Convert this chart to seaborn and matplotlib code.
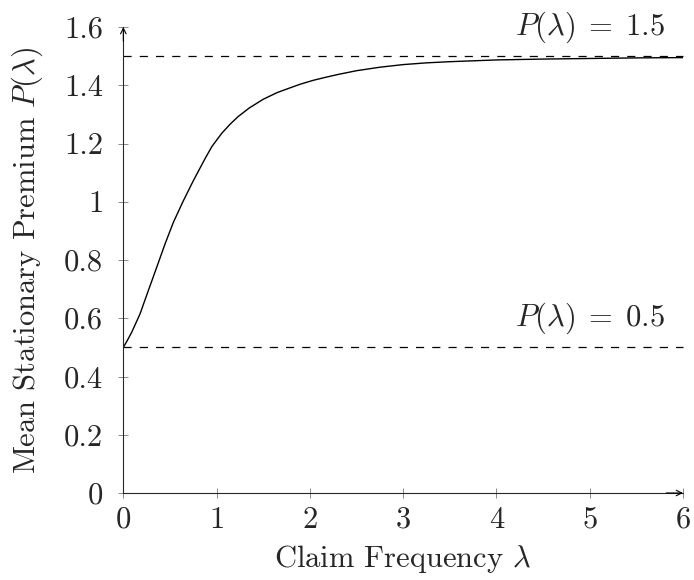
import numpy as np
import pandas as pd
import matplotlib
matplotlib.use("Agg")
import matplotlib.pyplot as plt
import seaborn as sns

sns.set_style("ticks")
plt.rcParams['font.family'] = 'serif'
plt.rcParams['font.serif'] = ['cmr10']
plt.rcParams['mathtext.fontset'] = 'cm'
plt.rcParams['axes.formatter.use_mathtext'] = True

# curve
lam = [0, 0.045, 0.09, 0.179, 0.268, 0.358, 0.447, 0.536, 0.643, 0.75, 0.876, 0.95,
       1.055, 1.15, 1.233, 1.35, 1.5, 1.65, 1.769, 1.9, 2.036, 2.15, 2.3, 2.5,
       2.75, 3.0, 3.25, 3.5, 4.0, 4.5, 5.0, 5.5, 6.0]
premium = [0.5, 0.525, 0.552, 0.615, 0.695, 0.775, 0.855, 0.929, 1.003, 1.072, 1.148, 1.19,
           1.235, 1.268, 1.293, 1.322, 1.352, 1.375, 1.389, 1.404, 1.417, 1.426, 1.437, 1.45,
           1.462, 1.471, 1.477, 1.481, 1.487, 1.490, 1.492, 1.494, 1.495]

bounds = [0.5, 1.5]
bound_labels = [r'$P(\lambda)\;=\;0.5$', r'$P(\lambda)\;=\;1.5$']

x_ticks = [0, 1, 2, 3, 4, 5, 6]
y_ticks = [0, 0.2, 0.4, 0.6, 0.8, 1.0, 1.2, 1.4, 1.6]
y_tick_labels = ['0', '0.2', '0.4', '0.6', '0.8', '1', '1.2', '1.4', '1.6']

df = pd.DataFrame({'lam': lam, 'premium': premium})

fig = plt.figure(figsize=(6.94, 5.8), dpi=100)
ax = fig.add_axes([0.1777, 0.15, 0.9841 - 0.1777, 0.8034])

sns.lineplot(data=df, x='lam', y='premium', color='black', lw=1.0, ax=ax)

for b, lab in zip(bounds, bound_labels):
    ax.plot([0, 6], [b, b], color='black', lw=0.9, ls=(0, (6.5, 6.5)), clip_on=False)
    ax.annotate(lab, xy=(5.0, b), xytext=(0, 8), textcoords='offset points',
                ha='center', va='bottom', fontsize=22)

ax.set_xlim(0, 6)
ax.set_ylim(0, 1.6)
ax.set_xticks(x_ticks)
ax.set_xticklabels([str(t) for t in x_ticks])
ax.set_yticks(y_ticks)
ax.set_yticklabels(y_tick_labels)
ax.tick_params(direction='inout', length=7, width=0.6, color='#777777',
               labelsize=22)
ax.tick_params(axis='y', pad=11)
ax.tick_params(axis='x', pad=6)

ax.set_xlabel(r'Claim Frequency $\lambda$', fontsize=22, labelpad=7)
ax.set_ylabel(r'Mean Stationary Premium $P(\lambda)$', fontsize=22, labelpad=14)

sns.despine(ax=ax)
for s in ['left', 'bottom']:
    ax.spines[s].set_linewidth(0.8)

# arrow heads on the axis lines
ax.annotate('', xy=(1.0, 0), xytext=(0.97, 0), xycoords='axes fraction',
            arrowprops=dict(arrowstyle='->', lw=0.8, color='black', shrinkA=0, shrinkB=0))
ax.annotate('', xy=(0, 1.0), xytext=(0, 0.97), xycoords='axes fraction',
            arrowprops=dict(arrowstyle='->', lw=0.8, color='black', shrinkA=0, shrinkB=0))

fig.savefig('out.png', dpi=100)
